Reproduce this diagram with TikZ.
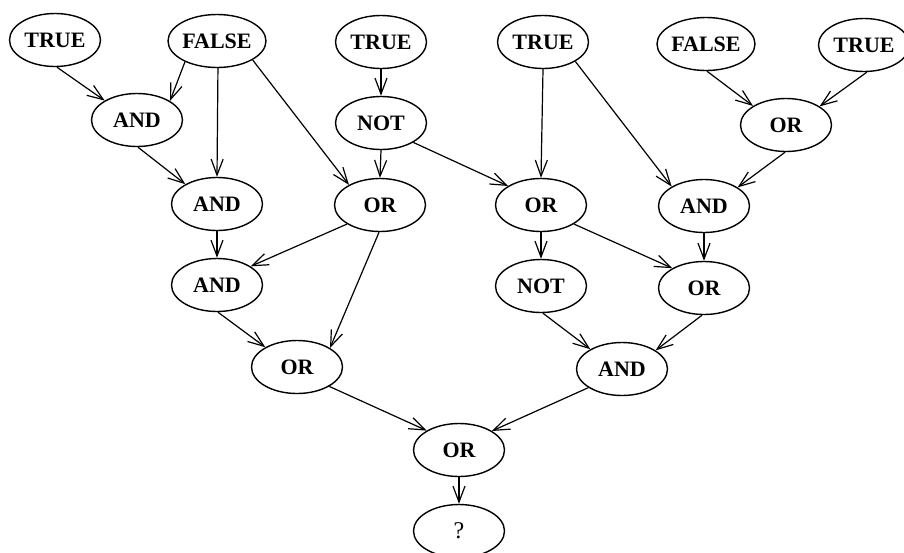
\documentclass[tikz,border=0pt]{standalone}
\usepackage{fontspec}
\setmainfont{Liberation Serif}
\usetikzlibrary{shapes.geometric,arrows.meta}
\begin{document}
\begin{tikzpicture}[x=1pt,y=-1pt,
  gate/.style={ellipse,draw,line width=1.4pt,minimum width=91pt,minimum height=53pt,
    inner sep=0pt,font=\fontsize{22}{24}\selectfont\bfseries},
  wire/.style={line width=1.2pt,-{Straight Barb[length=16pt,width=12pt,line width=1.2pt]}}]
\useasboundingbox (0,0) rectangle (904,552);
\clip (0,0) rectangle (904,552);
% inputs
\node[gate] (t1) at (55,40) {TRUE};
\node[gate] (f1) at (217,41) {FALSE};
\node[gate] (t2) at (381,42) {TRUE};
\node[gate] (t3) at (543,42) {TRUE};
\node[gate] (f2) at (706,44) {FALSE};
\node[gate] (t4) at (864,45) {TRUE};
% second rank
\node[gate] (and1) at (137,120) {AND};
\node[gate] (not1) at (381,123) {NOT};
\node[gate] (or2) at (786,125) {OR};
% third rank
\node[gate] (and2) at (217,204) {AND};
\node[gate] (or3a) at (380,205) {OR};
\node[gate] (or3b) at (541,205) {OR};
\node[gate] (and3) at (704,206) {AND};
% fourth rank
\node[gate] (and4) at (217,285) {AND};
\node[gate] (not4) at (541,286) {NOT};
\node[gate] (or4) at (704,288) {OR};
% fifth rank
\node[gate] (or5a) at (297,367) {OR};
\node[gate] (and5) at (622,369) {AND};
% output
\node[gate] (or6) at (459,450) {OR};
\node[gate,font=\fontsize{24}{26}\selectfont] (q) at (459,531) {?};
% connections
\draw[wire] (t1.-86) -- (and1.149);
\draw[wire] (f1.-147) -- (and1.30);
\draw[wire] (f1.-88) -- (and2.90);
\draw[wire] (f1.-28) -- (or3a.147);
\draw[wire] (t2.-90) -- (not1.90);
\draw[wire] (not1.-90) -- (or3a.90);
\draw[wire] (not1.-31) -- (or3b.150);
\draw[wire] (t3.-90) -- (or3b.90);
\draw[wire] (t3.-31) -- (and3.149);
\draw[wire] (f2.-88) -- (or2.150);
\draw[wire] (t4.-84) -- (or2.29);
\draw[wire] (or2.-92) -- (and3.29);
\draw[wire] (and1.-88) -- (and2.148);
\draw[wire] (and2.-90) -- (and4.90);
\draw[wire] (or3a.-150) -- (and4.29);
\draw[wire] (or3a.-92) -- (or5a.30);
\draw[wire] (and4.-88) -- (or5a.148);
\draw[wire] (or3b.-90) -- (not4.90);
\draw[wire] (or3b.-30) -- (or4.148);
\draw[wire] (and3.-90) -- (or4.90);
\draw[wire] (not4.-86) -- (and5.148);
\draw[wire] (or4.-94) -- (and5.29);
\draw[wire] (or5a.-31) -- (or6.149);
\draw[wire] (and5.-151) -- (or6.30);
\draw[wire] (or6.-90) -- (q.90);
\end{tikzpicture}
\end{document}
